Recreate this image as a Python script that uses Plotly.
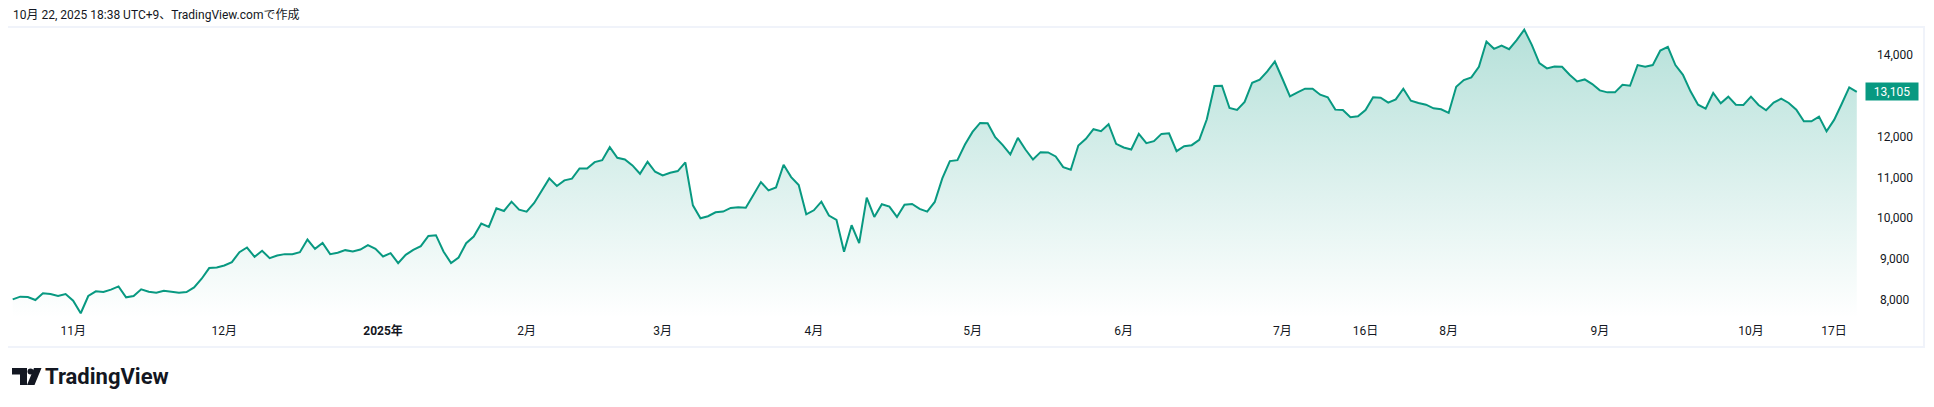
import pandas as pd
import plotly.graph_objects as go

# Japanese market holidays inside the window (no trading)
holidays = [
    "2024-11-04", "2024-12-31", "2025-01-01", "2025-01-02", "2025-01-03",
    "2025-01-13", "2025-02-11", "2025-02-24", "2025-03-20", "2025-04-29",
    "2025-05-05", "2025-05-06", "2025-07-21", "2025-08-11", "2025-09-15",
    "2025-09-23", "2025-10-13",
]

# daily close (2024-10-22 .. 2025-10-22)
close = [
    8016, 8082, 8074, 8000, 8163, 8147, 8098, 8147, 7984, 7674,
    8098, 8212, 8196, 8253, 8334, 8065, 8098, 8261, 8204, 8180,
    8228, 8212, 8180, 8196, 8310, 8522, 8783, 8799, 8848, 8929,
    9174, 9288, 9060, 9207, 9027, 9092, 9125, 9125, 9174, 9484,
    9256, 9402, 9125, 9158, 9223, 9190, 9239, 9345, 9256, 9068,
    9150, 8905, 9109, 9231, 9321, 9573, 9590, 9190, 8905, 9043,
    9394, 9557, 9875, 9794, 10250, 10185, 10413, 10218, 10169, 10381,
    10674, 10984, 10796, 10935, 10976, 11228, 11228, 11383, 11432, 11750,
    11489, 11448, 11302, 11098, 11391, 11147, 11057, 11122, 11163, 11375,
    10323, 10006, 10055, 10152, 10169, 10258, 10274, 10266, 10576, 10894,
    10690, 10763, 11318, 11016, 10821, 10103, 10201, 10413, 10071, 9965,
    9182, 9834, 9394, 10511, 10038, 10348, 10291, 10038, 10340, 10356,
    10234, 10169, 10405, 10984, 11408, 11432, 11815, 12125, 12345, 12337,
    11995, 11799, 11571, 11978, 11693, 11448, 11628, 11620, 11522, 11261,
    11196, 11791, 11954, 12190, 12141, 12313, 11832, 11742, 11693, 12076,
    11848, 11897, 12076, 12092, 11652, 11774, 11799, 11929, 12435, 13250,
    13258, 12712, 12663, 12859, 13332, 13405, 13609, 13853, 13429, 12997,
    13095, 13185, 13185, 13038, 12973, 12671, 12663, 12484, 12508, 12663,
    12973, 12965, 12842, 12924, 13185, 12891, 12834, 12793, 12704, 12679,
    12590, 13234, 13397, 13462, 13723, 14342, 14163, 14245, 14155, 14375,
    14636, 14261, 13813, 13682, 13731, 13723, 13527, 13364, 13413, 13299,
    13144, 13095, 13095, 13283, 13258, 13764, 13723, 13764, 14122, 14212,
    13764, 13527, 13120, 12793, 12696, 13079, 12826, 12989, 12793, 12785,
    12989, 12785, 12655, 12842, 12940, 12834, 12671, 12386, 12386, 12500,
    12141, 12419, 12810, 13217, 13105,
]

tick_dates = ["2024-11-01", "2024-12-02", "2025-01-06", "2025-02-03", "2025-03-03",
              "2025-04-01", "2025-05-01", "2025-06-02", "2025-07-01", "2025-07-16",
              "2025-08-01", "2025-09-01", "2025-10-01", "2025-10-17"]
tick_text = ["11月", "12月", "<b>2025年</b>", "2月", "3月", "4月", "5月", "6月",
             "7月", "16日", "8月", "9月", "10月", "17日"]

price_ticks = [8000, 9000, 10000, 11000, 12000, 14000]

days = pd.bdate_range("2024-10-22", "2025-10-22")
days = days[~days.isin(pd.to_datetime(holidays))]
dates = [d.strftime("%Y-%m-%d") for d in days]

GREEN = "#089981"
INK = "#131722"
FONT = "Roboto, 'Noto Sans CJK JP', sans-serif"

# the page body keeps its default 8px margin, so lay out in window pixels
# and shift everything up/left by that amount
OFF = 8
W, H = 1934 - OFF, 407 - OFF
L, R, T, B = 9 - OFF, 1862 - OFF, 27 - OFF, 318 - OFF
y_lo, y_hi = 7558, 14699


def px(x):
    return (x - OFF - L) / (R - L)


def py(y):
    return (B - (y - OFF)) / (B - T)


fig = go.Figure()

fig.add_trace(
    go.Scatter(
        x=dates,
        y=close,
        mode="lines",
        line=dict(color=GREEN, width=2),
        fill="tozeroy",
        fillgradient=dict(
            type="vertical",
            start=y_lo,
            stop=y_hi,
            colorscale=[[0, "rgba(8,153,129,0.0)"], [1, "rgba(8,153,129,0.30)"]],
        ),
        hoverinfo="skip",
        showlegend=False,
    )
)

annotations = []
for p in price_ticks:
    annotations.append(dict(
        xref="paper", yref="y", x=px(1895), y=p, text=f"{p:,}",
        showarrow=False, xanchor="center", yanchor="middle",
        font=dict(family=FONT, size=12, color=INK),
    ))

last = close[-1]
annotations.append(dict(
    xref="paper", yref="y", x=px(1891.5), y=last, text=f"{last:,}",
    showarrow=False, xanchor="center", yanchor="middle",
    width=50, height=15, bgcolor=GREEN, borderpad=1,
    font=dict(family=FONT, size=12, color="white"),
))

annotations.append(dict(
    xref="paper", yref="paper", x=px(11), y=py(15),
    text="10月 22, 2025 18:38 UTC+9、TradingView.comで作成",
    showarrow=False, xanchor="left", yanchor="middle",
    font=dict(family=FONT, size=12, color=INK),
))
annotations.append(dict(
    xref="paper", yref="paper", x=px(43), y=py(376),
    text="<b>TradingView</b>",
    showarrow=False, xanchor="left", yanchor="middle",
    font=dict(family=FONT, size=22, color=INK),
))

shapes = [
    # chart frame
    dict(type="rect", xref="paper", yref="paper",
         x0=px(7), x1=px(1924), y0=py(347), y1=py(27),
         line=dict(color="#f0f3fa", width=2), layer="below"),
    # logo: "T" block
    dict(type="path", xref="paper", yref="paper",
         path=(f"M {px(12)},{py(368)} L {px(27)},{py(368)} L {px(27)},{py(385)} "
               f"L {px(20)},{py(385)} L {px(20)},{py(374.5)} L {px(12)},{py(374.5)} Z"),
         fillcolor=INK, line=dict(width=0)),
    # logo: dot
    dict(type="circle", xref="paper", yref="paper",
         x0=px(27.5), x1=px(33.5), y0=py(374.5), y1=py(368.5),
         fillcolor=INK, line=dict(width=0)),
    # logo: slanted stroke
    dict(type="path", xref="paper", yref="paper",
         path=(f"M {px(34)},{py(368)} L {px(41.5)},{py(368)} L {px(34.5)},{py(385)} "
               f"L {px(27)},{py(385)} Z"),
         fillcolor=INK, line=dict(width=0)),
]

fig.update_layout(
    width=W,
    height=H,
    margin=dict(l=L, r=W - R, t=T, b=H - B),
    paper_bgcolor="white",
    plot_bgcolor="white",
    font=dict(family=FONT, size=12, color=INK),
    xaxis=dict(
        type="category",
        range=[-0.49, len(dates) - 1 + 0.69],
        tickvals=tick_dates,
        ticktext=tick_text,
        ticks="outside",
        ticklen=2,
        tickcolor="rgba(0,0,0,0)",
        tickangle=0,
        showgrid=False,
        zeroline=False,
        showline=False,
        tickfont=dict(family=FONT, size=12, color=INK),
    ),
    yaxis=dict(
        range=[y_lo, y_hi],
        showgrid=False,
        zeroline=False,
        showline=False,
        showticklabels=False,
    ),
    annotations=annotations,
    shapes=shapes,
)

fig.write_html("out.html")
